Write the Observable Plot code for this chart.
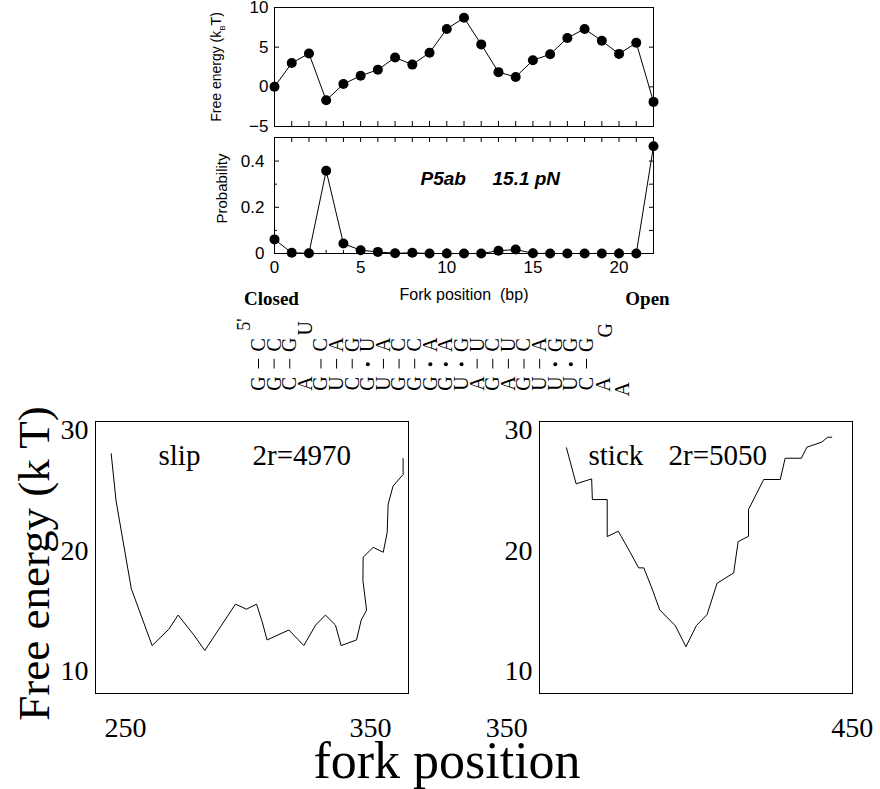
<!DOCTYPE html>
<html>
<head>
<meta charset="utf-8">
<script src="https://cdn.jsdelivr.net/npm/d3@7"></script>
<script src="https://cdn.jsdelivr.net/npm/@observablehq/plot@0.6"></script>
<style>
  html, body { margin: 0; padding: 0; background: #fff; }
  #root { position: relative; width: 880px; height: 789px; overflow: hidden; background: #fff; }
  #root > svg, #root > div { position: absolute; overflow: visible; }
  .title { font-family: "Liberation Serif", serif; color: #000; white-space: nowrap; }
</style>
</head>
<body>
<div id="root"></div>
<script>
// ---------- data ----------
const forkPos = d3.range(0, 23);
const freeEnergyTop = [0, 3.0, 4.2, -1.7, 0.35, 1.4, 2.15, 3.7, 2.8, 4.3, 7.3, 8.7, 5.35, 1.85, 1.25, 3.35, 4.1, 6.15, 7.3, 5.8, 4.15, 5.55, -1.9];
const probability = [0.061, 0.003, 0.001, 0.358, 0.043, 0.014, 0.007, 0.001, 0.003, 0, 0, 0, 0, 0.012, 0.017, 0.001, 0, 0, 0, 0, 0, 0, 0.464];

const slipX = [244.2, 246.2, 252.4, 260.9, 267.7, 271.5, 277.9, 282.4, 288.8, 294.9, 299.4, 303.5, 305.8, 307.8, 316.7, 322.8, 327.6, 331.6, 335.7, 338.0, 344.3, 346.2, 348.4, 346.9, 347.0, 351.1, 355.2, 356.8, 357.2, 359.2, 363.3, 363.3];
const slipY = [28.07, 24.13, 16.83, 12.09, 13.45, 14.63, 12.98, 11.68, 13.66, 15.54, 15.12, 15.54, 14.07, 12.56, 13.39, 12.09, 13.8, 14.63, 13.8, 12.09, 12.56, 14.21, 15.04, 17.52, 19.45, 20.27, 19.86, 21.51, 23.86, 25.37, 26.34, 27.66];
const stickX = [367.3, 370.1, 374.6, 374.8, 379.1, 379.1, 382.3, 385.2, 388.2, 389.7, 392.1, 394.3, 398.8, 401.9, 404.9, 408.0, 410.9, 415.7, 417.0, 420.0, 420.0, 424.4, 429.2, 430.6, 435.3, 436.9, 441.2, 442.9, 444.1];
const stickY = [28.56, 25.56, 25.97, 24.25, 24.25, 21.17, 21.61, 20.14, 18.56, 18.56, 16.81, 15.06, 13.75, 12.0, 13.75, 14.67, 17.28, 18.14, 20.75, 21.19, 23.42, 25.92, 25.92, 27.69, 27.69, 28.61, 29.03, 29.44, 29.44];

const topYTicks = [-5, 0, 5, 10];
const probYTicks = [0, 0.2, 0.4];
const probXTicks = [0, 5, 10, 15, 20];
const bottomYTicks = [10, 20, 30];
const slipXTicks = [250, 350];
const stickXTicks = [350, 450];

// hairpin sequence (columns left -> right; 5' strand on top, "" = no letter / no bond)
const seqTop    = ["C","C","G","","C","A","G","U","A","C","C","A","A","G","U","C","U","C","A","G","G","G"];
const seqBond   = ["|","|","|","","|","|","|","•","|","|","|","•","•","•","|","|","|","|","|","•","•","|"];
const seqBottom = ["G","G","C","A","G","U","C","G","U","G","G","G","G","U","A","G","A","G","U","U","U","C"];
const seqExtra  = [{c: 3, r: -0.85, t: "U"}, {c: 22.2, r: -0.75, t: "G"}, {c: 22.1, r: 2.05, t: "A"}, {c: 23.3, r: 2.3, t: "A"}];

// ---------- helpers ----------
const SANS = "Liberation Sans, Arial, sans-serif";
const SERIF = "Liberation Serif, Times New Roman, serif";
const root = document.getElementById("root");
function place(svg, left, top) {
  svg.style.left = left + "px";
  svg.style.top = top + "px";
  svg.style.position = "absolute";
  svg.style.overflow = "visible";
  root.appendChild(svg);
  return svg;
}

// ---------- top panel: free energy ----------
const topData = forkPos.map((x, i) => ({x, y: freeEnergyTop[i]}));
const p1 = Plot.plot({
  width: 480, height: 140,
  marginLeft: 74, marginRight: 27, marginTop: 7, marginBottom: 14,
  style: {fontFamily: SANS, fontSize: "17px", background: "transparent", color: "black", overflow: "visible"},
  x: {domain: [0, 22]},
  y: {domain: [-5, 10]},
  marks: [
    Plot.frame({stroke: "black"}),
    Plot.axisY(topYTicks, {anchor: "left", tickSize: -5, tickPadding: 11, label: null}),
    Plot.axisY(topYTicks, {anchor: "right", tickSize: -5, tickFormat: () => "", label: null}),
    Plot.axisX(forkPos, {anchor: "bottom", tickSize: -5, tickFormat: () => "", label: null}),
    Plot.line(topData, {x: "x", y: "y", stroke: "black", strokeWidth: 1}),
    Plot.dot(topData, {x: "x", y: "y", r: 5, fill: "black"}),
    Plot.text(["Free energy (kBT)"], {frameAnchor: "left", textAnchor: "middle", lineAnchor: "middle", rotate: -90, dx: -58, fontSize: 14, fontFamily: SANS})
  ]
});
place(p1, 200, 0);
// subscript B
d3.select(p1).selectAll("text").filter(function() { return this.textContent === "Free energy (kBT)"; })
  .each(function() {
    const t = d3.select(this);
    t.text(null);
    t.append("tspan").text("Free energy (k");
    t.append("tspan").attr("font-size", "8px").attr("dy", "4").text("B");
    t.append("tspan").attr("dy", "-4").text("T)");
  });

// ---------- middle panel: probability ----------
const probData = forkPos.map((x, i) => ({x, y: probability[i]}));
const p2 = Plot.plot({
  width: 480, height: 180,
  marginLeft: 74, marginRight: 27, marginTop: 7, marginBottom: 57,
  style: {fontFamily: SANS, fontSize: "17px", background: "transparent", color: "black", overflow: "visible"},
  x: {domain: [0, 22]},
  y: {domain: [0, 0.502]},
  marks: [
    Plot.frame({stroke: "black"}),
    Plot.axisY(probYTicks, {anchor: "left", tickSize: -5, tickPadding: 15, label: null, tickFormat: d => d === 0 ? "0" : d3.format(".1f")(d)}),
    Plot.axisY([0.1, 0.3], {anchor: "left", tickSize: -3, tickFormat: () => "", label: null}),
    Plot.axisY([0.1, 0.2, 0.3, 0.4], {anchor: "right", tickSize: -5, tickFormat: () => "", label: null}),
    Plot.axisX(probXTicks, {anchor: "bottom", tickSize: -5, tickPadding: 12, label: null}),
    Plot.axisX(forkPos, {anchor: "bottom", tickSize: -3, tickFormat: () => "", label: null}),
    Plot.axisX(forkPos, {anchor: "top", tickSize: -4, tickFormat: () => "", label: null}),
    Plot.line(probData, {x: "x", y: "y", stroke: "black", strokeWidth: 1}),
    Plot.dot(probData, {x: "x", y: "y", r: 5, fill: "black"}),
    Plot.text(["Probability"], {frameAnchor: "left", textAnchor: "middle", lineAnchor: "middle", rotate: -90, dx: -52, dy: -7, fontSize: 15, fontFamily: SANS}),
    Plot.text(["P5ab"], {frameAnchor: "top-left", textAnchor: "start", lineAnchor: "middle", dx: 146, dy: 41, fontSize: 19, fontWeight: "bold", fontStyle: "italic", fontFamily: SANS}),
    Plot.text(["15.1 pN"], {frameAnchor: "top-left", textAnchor: "start", lineAnchor: "middle", dx: 218, dy: 41, fontSize: 19, fontWeight: "bold", fontStyle: "italic", fontFamily: SANS}),
    Plot.text(["Fork position  (bp)"], {frameAnchor: "bottom", lineAnchor: "middle", dy: 41, fontSize: 16, fontFamily: SANS}),
    Plot.text([{x: 0, t: "Closed"}], {x: "x", text: "t", frameAnchor: "bottom", lineAnchor: "middle", dx: -3, dy: 45, fontSize: 19, fontWeight: "bold", fontFamily: SERIF}),
    Plot.text([{x: 22, t: "Open"}], {x: "x", text: "t", frameAnchor: "bottom", lineAnchor: "middle", dx: -6, dy: 45, fontSize: 19, fontWeight: "bold", fontFamily: SERIF})
  ]
});
place(p2, 200, 130);

// ---------- hairpin sequence ----------
const seqCols = d3.range(seqTop.length);
const seqRows = [
  ...seqCols.filter(i => seqTop[i]).map(i => ({c: i, r: 0, t: seqTop[i]})),
  ...seqCols.filter(i => seqBottom[i]).map(i => ({c: i, r: 2, t: seqBottom[i]}))
];
const bondRows = seqCols.filter(i => seqBond[i]).map(i => ({c: i, r: 1, t: seqBond[i]}));
const p3 = Plot.plot({
  width: 420, height: 100,
  margin: 0,
  x: {domain: [0, 21], range: [28, 356], axis: null},
  y: {domain: [-1, 2], range: [25, 83], axis: null},
  style: {background: "transparent", overflow: "visible"},
  marks: [
    Plot.text(seqRows, {x: "c", y: "r", text: "t", rotate: -90, fontSize: 20, fontFamily: SERIF}),
    Plot.ruleX(bondRows.filter(d => d.t === "|"), {x: "c", y1: d => d.r - 0.25, y2: d => d.r + 0.25, stroke: "black", strokeWidth: 1}),
    Plot.dot(bondRows.filter(d => d.t === "•"), {x: "c", y: "r", r: 2, fill: "black"}),
    Plot.text(seqExtra, {x: "c", y: "r", text: "t", rotate: -90, fontSize: 20, fontFamily: SERIF}),
    Plot.text([{c: -0.9, r: -1.05, t: "5'"}], {x: "c", y: "r", text: "t", rotate: -90, fontSize: 18, fontFamily: SERIF})
  ]
});
place(p3, 230, 300);

// ---------- bottom-left: slip ----------
const slipData = slipX.map((x, i) => ({x, y: slipY[i]}));
const p4 = Plot.plot({
  width: 440, height: 389,
  marginLeft: 95, marginRight: 32, marginTop: 21, marginBottom: 96,
  style: {fontFamily: SERIF, fontSize: "28px", background: "transparent", color: "black", overflow: "visible"},
  x: {domain: [237.8, 365.5]},
  y: {domain: [8.1, 30.75]},
  marks: [
    Plot.frame({stroke: "black"}),
    Plot.axisY(bottomYTicks, {anchor: "left", tickSize: 0, tickPadding: 7, label: null}),
    Plot.axisX(slipXTicks, {anchor: "bottom", tickSize: 0, tickPadding: 24, label: null}),
    Plot.line(slipData, {x: "x", y: "y", stroke: "black", strokeWidth: 1}),
    Plot.text(["slip"], {frameAnchor: "top-left", textAnchor: "start", lineAnchor: "middle", dx: 63, dy: 34, fontSize: 29, fontFamily: SERIF}),
    Plot.text(["2r=4970"], {frameAnchor: "top-left", textAnchor: "start", lineAnchor: "middle", dx: 157, dy: 34, fontSize: 29, fontFamily: SERIF}),
    Plot.text(["Free energy (k T)"], {frameAnchor: "left", textAnchor: "middle", lineAnchor: "middle", rotate: -90, dx: -61, dy: 6, fontSize: 45, fontFamily: SERIF})
  ]
});
place(p4, 0, 400);

// ---------- bottom-right: stick ----------
const stickData = stickX.map((x, i) => ({x, y: stickY[i]}));
const p5 = Plot.plot({
  width: 440, height: 389,
  marginLeft: 99, marginRight: 28, marginTop: 21, marginBottom: 96,
  style: {fontFamily: SERIF, fontSize: "28px", background: "transparent", color: "black", overflow: "visible"},
  x: {domain: [359.5, 450.1]},
  y: {domain: [8.1, 30.75]},
  marks: [
    Plot.frame({stroke: "black"}),
    Plot.axisY(bottomYTicks, {anchor: "left", tickSize: 0, tickPadding: 7, label: null}),
    Plot.axisX(stickXTicks, {anchor: "bottom", tickSize: 0, tickPadding: 24, label: null}),
    Plot.line(stickData, {x: "x", y: "y", stroke: "black", strokeWidth: 1}),
    Plot.text(["stick"], {frameAnchor: "top-left", textAnchor: "start", lineAnchor: "middle", dx: 49, dy: 34, fontSize: 29, fontFamily: SERIF}),
    Plot.text(["2r=5050"], {frameAnchor: "top-left", textAnchor: "start", lineAnchor: "middle", dx: 129, dy: 34, fontSize: 29, fontFamily: SERIF})
  ]
});
place(p5, 440, 400);

// ---------- shared x title ----------
const xt = document.createElement("div");
xt.className = "title";
xt.textContent = "fork position";
xt.style.cssText = "position:absolute;left:0;width:894px;top:733px;text-align:center;font-size:52px;line-height:56px;";
root.appendChild(xt);
</script>
</body>
</html>
